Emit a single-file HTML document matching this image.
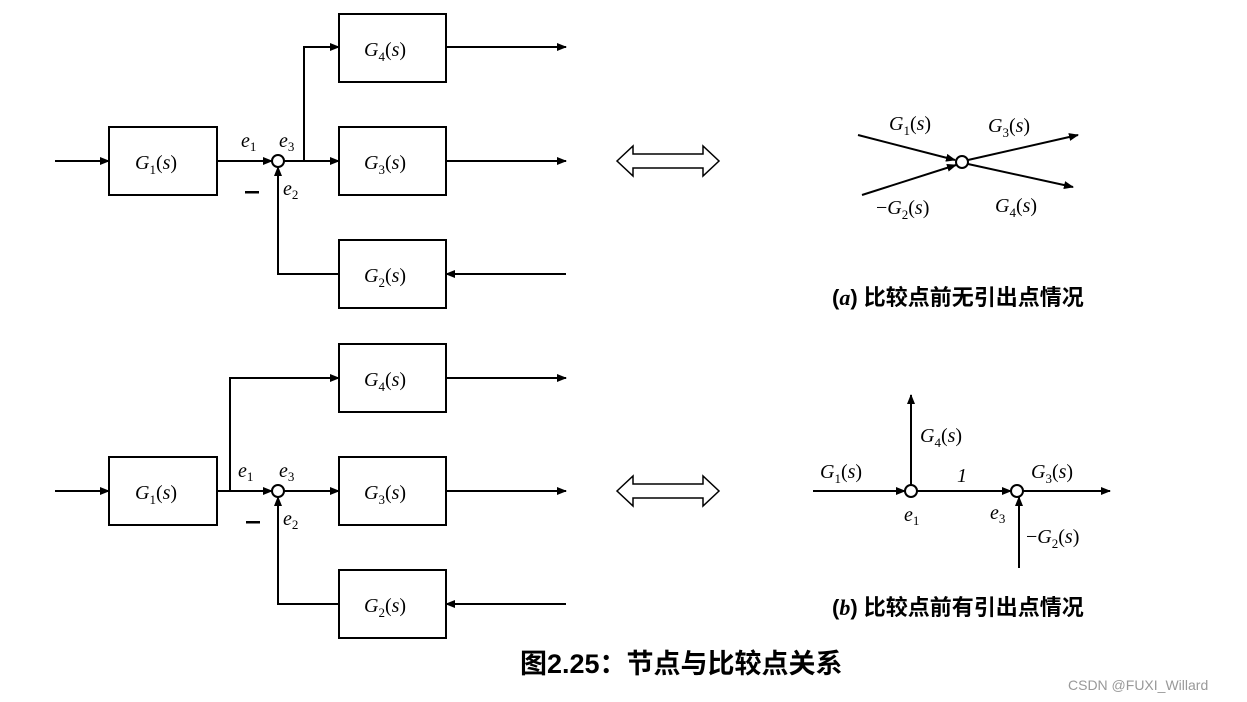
<!DOCTYPE html>
<html><head><meta charset="utf-8"><style>
body{margin:0;background:#fff;}
svg{display:block;}
.m{font-family:"Liberation Serif","DejaVu Serif",serif;font-style:italic;font-size:20px;fill:#000;}
.s{font-size:13px;font-style:normal;}
.c{font-family:"Liberation Sans","Noto Sans CJK SC",sans-serif;font-weight:bold;fill:#000;}
</style></head><body>
<svg width="1247" height="702" viewBox="0 0 1247 702" xmlns="http://www.w3.org/2000/svg">
<defs>
<marker id="a" markerWidth="10" markerHeight="8" refX="9" refY="4" orient="auto" markerUnits="userSpaceOnUse"><path d="M0,0 L10,4 L0,8 Z" fill="#000"/></marker>
</defs>
<g stroke="#000" stroke-width="2" fill="none">
<!-- top diagram -->
<rect x="109" y="127" width="108" height="68"/>
<rect x="339" y="14" width="107" height="68"/>
<rect x="339" y="127" width="107" height="68"/>
<rect x="339" y="240" width="107" height="68"/>
<line x1="55" y1="161" x2="109" y2="161" marker-end="url(#a)"/>
<line x1="217" y1="161" x2="272" y2="161" marker-end="url(#a)"/>
<circle cx="278" cy="161" r="6"/>
<line x1="284" y1="161" x2="339" y2="161" marker-end="url(#a)"/>
<polyline points="304,161 304,47 339,47" marker-end="url(#a)"/>
<line x1="446" y1="47" x2="566" y2="47" marker-end="url(#a)"/>
<line x1="446" y1="161" x2="566" y2="161" marker-end="url(#a)"/>
<polyline points="339,274 278,274 278,167" marker-end="url(#a)"/>
<line x1="566" y1="274" x2="446" y2="274" marker-end="url(#a)"/>
<!-- bottom diagram -->
<rect x="109" y="457" width="108" height="68"/>
<rect x="339" y="344" width="107" height="68"/>
<rect x="339" y="457" width="107" height="68"/>
<rect x="339" y="570" width="107" height="68"/>
<line x1="55" y1="491" x2="109" y2="491" marker-end="url(#a)"/>
<line x1="217" y1="491" x2="272" y2="491" marker-end="url(#a)"/>
<circle cx="278" cy="491" r="6"/>
<line x1="284" y1="491" x2="339" y2="491" marker-end="url(#a)"/>
<polyline points="230,491 230,378 339,378" marker-end="url(#a)"/>
<line x1="446" y1="378" x2="566" y2="378" marker-end="url(#a)"/>
<line x1="446" y1="491" x2="566" y2="491" marker-end="url(#a)"/>
<polyline points="339,604 278,604 278,497" marker-end="url(#a)"/>
<line x1="566" y1="604" x2="446" y2="604" marker-end="url(#a)"/>
<!-- double arrows -->
<path d="M617,161 L633,146 L633,154 L703,154 L703,146 L719,161 L703,176 L703,168 L633,168 L633,176 Z" stroke-width="1.5"/>
<path d="M617,491 L633,476 L633,484 L703,484 L703,476 L719,491 L703,506 L703,498 L633,498 L633,506 Z" stroke-width="1.5"/>
<!-- right a -->
<line x1="858" y1="135" x2="955" y2="160" marker-end="url(#a)"/>
<line x1="862" y1="195" x2="956" y2="165" marker-end="url(#a)"/>
<circle cx="962" cy="162" r="6"/>
<line x1="968" y1="160" x2="1078" y2="135" marker-end="url(#a)"/>
<line x1="968" y1="164" x2="1073" y2="187" marker-end="url(#a)"/>
<!-- right b -->
<line x1="813" y1="491" x2="905" y2="491" marker-end="url(#a)"/>
<circle cx="911" cy="491" r="6"/>
<line x1="911" y1="485" x2="911" y2="395" marker-end="url(#a)"/>
<line x1="917" y1="491" x2="1011" y2="491" marker-end="url(#a)"/>
<circle cx="1017" cy="491" r="6"/>
<line x1="1023" y1="491" x2="1110" y2="491" marker-end="url(#a)"/>
<line x1="1019" y1="568" x2="1019" y2="497" marker-end="url(#a)"/>
</g>
<!-- labels top -->
<text class="m" x="135" y="169">G<tspan class="s" dy="5">1</tspan><tspan dy="-5" font-style="normal">(</tspan>s<tspan font-style="normal">)</tspan></text>
<text class="m" x="364" y="56">G<tspan class="s" dy="5">4</tspan><tspan dy="-5" font-style="normal">(</tspan>s<tspan font-style="normal">)</tspan></text>
<text class="m" x="364" y="169">G<tspan class="s" dy="5">3</tspan><tspan dy="-5" font-style="normal">(</tspan>s<tspan font-style="normal">)</tspan></text>
<text class="m" x="364" y="282">G<tspan class="s" dy="5">2</tspan><tspan dy="-5" font-style="normal">(</tspan>s<tspan font-style="normal">)</tspan></text>
<text class="m" x="241" y="147">e<tspan class="s" dy="4">1</tspan></text>
<text class="m" x="279" y="147">e<tspan class="s" dy="4">3</tspan></text>
<text class="m" x="283" y="195">e<tspan class="s" dy="4">2</tspan></text>
<rect x="245" y="191" width="14" height="2.5" fill="#000"/>
<!-- labels bottom -->
<text class="m" x="135" y="499">G<tspan class="s" dy="5">1</tspan><tspan dy="-5" font-style="normal">(</tspan>s<tspan font-style="normal">)</tspan></text>
<text class="m" x="364" y="386">G<tspan class="s" dy="5">4</tspan><tspan dy="-5" font-style="normal">(</tspan>s<tspan font-style="normal">)</tspan></text>
<text class="m" x="364" y="499">G<tspan class="s" dy="5">3</tspan><tspan dy="-5" font-style="normal">(</tspan>s<tspan font-style="normal">)</tspan></text>
<text class="m" x="364" y="612">G<tspan class="s" dy="5">2</tspan><tspan dy="-5" font-style="normal">(</tspan>s<tspan font-style="normal">)</tspan></text>
<text class="m" x="238" y="477">e<tspan class="s" dy="4">1</tspan></text>
<text class="m" x="279" y="477">e<tspan class="s" dy="4">3</tspan></text>
<text class="m" x="283" y="525">e<tspan class="s" dy="4">2</tspan></text>
<rect x="246" y="521" width="14" height="2.5" fill="#000"/>
<!-- right a labels -->
<text class="m" x="889" y="130">G<tspan class="s" dy="5">1</tspan><tspan dy="-5" font-style="normal">(</tspan>s<tspan font-style="normal">)</tspan></text>
<text class="m" x="988" y="132">G<tspan class="s" dy="5">3</tspan><tspan dy="-5" font-style="normal">(</tspan>s<tspan font-style="normal">)</tspan></text>
<text class="m" x="876" y="214"><tspan font-style="normal">−</tspan>G<tspan class="s" dy="5">2</tspan><tspan dy="-5" font-style="normal">(</tspan>s<tspan font-style="normal">)</tspan></text>
<text class="m" x="995" y="212">G<tspan class="s" dy="5">4</tspan><tspan dy="-5" font-style="normal">(</tspan>s<tspan font-style="normal">)</tspan></text>
<!-- right b labels -->
<text class="m" x="920" y="442">G<tspan class="s" dy="5">4</tspan><tspan dy="-5" font-style="normal">(</tspan>s<tspan font-style="normal">)</tspan></text>
<text class="m" x="820" y="478">G<tspan class="s" dy="5">1</tspan><tspan dy="-5" font-style="normal">(</tspan>s<tspan font-style="normal">)</tspan></text>
<text class="m" x="957" y="482" font-style="normal">1</text>
<text class="m" x="1031" y="478">G<tspan class="s" dy="5">3</tspan><tspan dy="-5" font-style="normal">(</tspan>s<tspan font-style="normal">)</tspan></text>
<text class="m" x="904" y="521">e<tspan class="s" dy="4">1</tspan></text>
<text class="m" x="990" y="519">e<tspan class="s" dy="4">3</tspan></text>
<text class="m" x="1026" y="543"><tspan font-style="normal">−</tspan>G<tspan class="s" dy="5">2</tspan><tspan dy="-5" font-style="normal">(</tspan>s<tspan font-style="normal">)</tspan></text>
<!-- captions -->
<text class="c" x="832" y="305" font-size="22">(<tspan font-style="italic" font-family="Liberation Serif">a</tspan>) 比较点前无引出点情况</text>
<text class="c" x="832" y="615" font-size="22">(<tspan font-style="italic" font-family="Liberation Serif">b</tspan>) 比较点前有引出点情况</text>
<text class="c" x="520" y="673" font-size="27">图2.25：节点与比较点关系</text>
<text x="1068" y="690" font-family="Liberation Sans, sans-serif" font-size="14" fill="#999">CSDN @FUXI_Willard</text>
</svg>
</body></html>
